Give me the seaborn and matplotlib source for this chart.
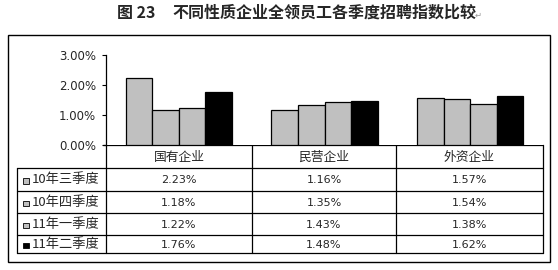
import matplotlib
matplotlib.use("Agg")
import matplotlib.pyplot as plt
import seaborn as sns
import pandas as pd
from matplotlib.patches import Rectangle

categories = ["国有企业", "民营企业", "外资企业"]
quarters = ["10年三季度", "10年四季度", "11年一季度", "11年二季度"]
q3_2010 = [2.23, 1.16, 1.57]
q4_2010 = [1.18, 1.35, 1.54]
q1_2011 = [1.22, 1.43, 1.38]
q2_2011 = [1.76, 1.48, 1.62]
yticks = [0.0, 1.0, 2.0, 3.0]
title_num = "图 23"
title_text = "不同性质企业全领员工各季度招聘指数比较"

series = [q3_2010, q4_2010, q1_2011, q2_2011]
rows = []
for q, vals in zip(quarters, series):
    for c, v in zip(categories, vals):
        rows.append({"企业": c, "季度": q, "值": v})
df = pd.DataFrame(rows)

sns.set_style("white")
plt.rcParams["font.family"] = ["Noto Sans CJK SC", "DejaVu Sans"]

W, H = 558, 270
fig = plt.figure(figsize=(W / 100, H / 100), dpi=100)

def fx(x):
    return x / W

def fy(y):
    return 1 - y / H

# overlay axes in pixel coordinates
ov = fig.add_axes([0, 0, 1, 1])
ov.set_xlim(0, W)
ov.set_ylim(H, 0)
ov.axis("off")

# bar axes
L, R, T, B = 106, 543, 55, 145
ax = fig.add_axes([fx(L), fy(B), fx(R) - fx(L), fy(T) - fy(B)])
palette = {quarters[0]: "#C0C0C0", quarters[1]: "#C0C0C0",
           quarters[2]: "#C0C0C0", quarters[3]: "#000000"}
sns.barplot(data=df, x="企业", y="值", hue="季度", hue_order=quarters,
            order=categories, palette=palette, width=0.73,
            edgecolor="black", linewidth=0.9, ax=ax, legend=False)
ax.set_ylim(0, 3.0)
ax.set_xlim(-0.5, 2.5)
ax.set_yticks(yticks)
ax.set_yticklabels([f"{t:.2f}%" for t in yticks], fontsize=8.5,
                   family=["DejaVu Sans"])
ax.tick_params(axis="y", length=3, width=0.8, color="black", pad=4,
               left=True, direction="out")
ax.set_xticks([])
ax.set_xlabel("")
ax.set_ylabel("")
for s in ["top", "right", "bottom"]:
    ax.spines[s].set_visible(False)
ax.spines["left"].set_color("black")
ax.spines["left"].set_linewidth(0.9)

# outer frame
ov.add_patch(Rectangle((8, 35), 542, 227, fill=False, edgecolor="black",
                       linewidth=1.0))

# table
lw = 0.9
col_x = [106, 252, 396, 543]
row_y = [145, 168, 191, 213, 235, 253]
TL = 17
ov.plot([col_x[0] - 3, col_x[-1]], [row_y[0], row_y[0]], color="black", lw=lw)
for y in row_y[1:]:
    ov.plot([TL, col_x[-1]], [y, y], color="black", lw=lw)
for x in col_x:
    ov.plot([x, x], [row_y[0], row_y[-1]], color="black", lw=lw)
ov.plot([TL, TL], [row_y[1], row_y[-1]], color="black", lw=lw)

for i, c in enumerate(categories):
    cx = (col_x[i] + col_x[i + 1]) / 2
    ov.text(cx, (row_y[0] + row_y[1]) / 2 + 1, c, ha="center", va="center",
            fontsize=9.2)

for r, (q, vals) in enumerate(zip(quarters, series)):
    cy = (row_y[r + 1] + row_y[r + 2]) / 2 + 0.5
    ov.add_patch(Rectangle((23, cy - 2), 5.5, 5.5, facecolor=palette[q],
                           edgecolor="black", linewidth=0.6))
    ov.text(32, cy, q, ha="left", va="center", fontsize=9.5)
    for i, v in enumerate(vals):
        cx = (col_x[i] + col_x[i + 1]) / 2
        ov.text(cx, cy, f"{v:.2f}%", ha="center", va="center", fontsize=8,
                family=["DejaVu Sans"])

# title
ov.text(117, 13, title_num, ha="left", va="center", fontsize=11.5,
        fontweight="bold")
ov.text(172, 13, title_text, ha="left", va="center", fontsize=11.5,
        fontweight="bold")
ov.text(475, 15, "↵", ha="left", va="center", fontsize=6, color="#999999",
        family=["DejaVu Sans"])

fig.savefig("out.png", dpi=100)
